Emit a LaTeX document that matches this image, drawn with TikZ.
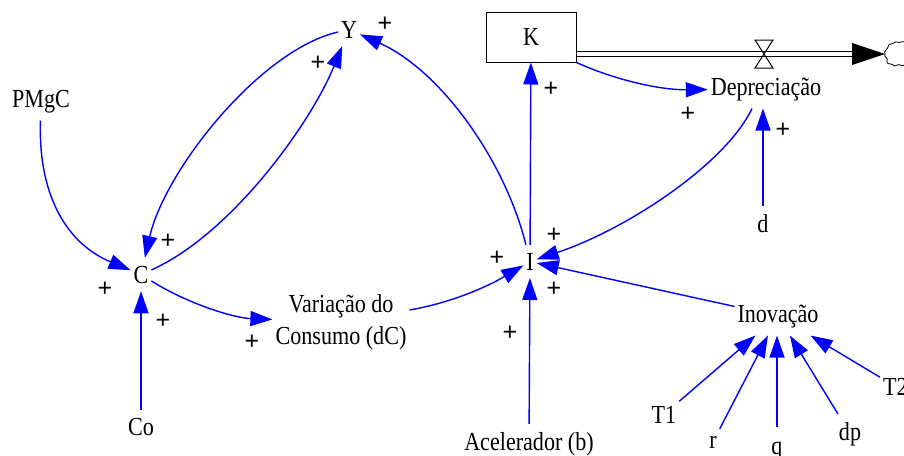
\documentclass[tikz,border=0pt]{standalone}
\usepackage{fontspec}
\usepackage{graphicx}
\setmainfont{Liberation Serif}
\newfontfamily\varfont{Liberation Serif}
\newfontfamily\plusfont{Liberation Sans}
\newcommand{\nx}[1]{\scalebox{0.85}[1]{#1}}
\usetikzlibrary{arrows.meta}
\definecolor{linkblue}{RGB}{0,0,255}
\tikzset{
  var/.style={font=\varfont\fontsize{26}{32}\selectfont, inner xsep=3pt, inner ysep=8pt, outer sep=0pt, anchor=base},
  pol/.style={font=\plusfont\fontsize{25}{26}\selectfont, inner sep=0pt},
  link/.style={draw=linkblue, line width=1.4pt, -{Triangle[length=22pt,width=15pt]}},
  stockbox/.style={draw, line width=1pt, minimum width=90pt, minimum height=50pt, font=\varfont\fontsize{26}{32}\selectfont},
  pipe/.style={line width=1.1pt, double distance=4.6pt},
  thinblack/.style={line width=1pt}
}
\begin{document}
\begin{tikzpicture}[x=1pt,y=-1pt]
\clip (0,0) rectangle (904,455);
\fill[white] (0,0) rectangle (904,455);

% variables
\node[var] (Y) at (349,38) {\nx{Y}};
\node[var] (PMgC) at (41,107) {\nx{PMgC}};
\node[var] (C) at (141,283) {\nx{C}};
\node[var] (Co) at (141,435) {\nx{Co}};
\node[font=\varfont\fontsize{26}{32}\selectfont, align=center, inner xsep=3pt, inner ysep=4pt] (Var) at (341,322) {\nx{Variação do}\\\nx{Consumo (dC)}};
\node[var] (I) at (530,270) {\nx{I}};
\node[stockbox] (K) at (531,37) {\nx{K}};
\node[var] (Dep) at (766,95) {\nx{Depreciação}};
\node[var] (d) at (763,232) {\nx{d}};
\node[var] (Inov) at (778,322) {\nx{Inovação}};
\node[var] (T1) at (664,423) {\nx{T1}};
\node[var] (r) at (713,448) {\nx{r}};
\node[var] (q) at (777,454) {\nx{q}};
\node[var] (dp) at (850,440) {\nx{dp}};
\node[var, anchor=base west] (T2) at (880,395) {\nx{T2}};
\node[var] (Acel) at (529,450) {\nx{Acelerador (b)}};

% flow
\coordinate (valve) at (764,54);
\coordinate (sink) at (885,54);
\draw[pipe] (K.east |- valve) -- (852,54);
\fill (852,43) -- (sink) -- (852,65) -- cycle;
\draw[thinblack] (valve) ++(-9,-14) -- ++(18,0) -- ++(-18,28) -- ++(18,0) -- cycle;
\draw[line width=0.8pt] (sink) .. controls (883,51) and (888,49) .. (888,47)
  .. controls (888,43) and (892,45) .. (894,43) .. controls (896,40) and (899,44) .. (901,42)
  .. controls (903,40) and (905,43) .. (908,42);
\draw[line width=0.8pt] (sink) .. controls (883,57) and (889,58) .. (887,61)
  .. controls (886,65) and (891,63) .. (893,65) .. controls (895,68) and (898,63) .. (900,65)
  .. controls (902,67) and (905,64) .. (908,65);

% links
\draw[link] (PMgC) .. controls (38,200) and (70,245) .. (C);
\draw[link] (Y) .. controls (260,50) and (165,170) .. (C);
\draw[link] (C) .. controls (230,235) and (310,125) .. (Y);
\draw[link] (I) .. controls (505,160) and (440,70) .. (Y);
\draw[link] (I) -- (K);
\draw[link] (K.south east) .. controls (615,80) and (660,90) .. (Dep);
\draw[link] ([xshift=-14pt]Dep.south) .. controls (725,165) and (625,230) .. (I);
\draw[link] (d.north) -- (d.north |- Dep.south);
\draw[link] (Inov) -- (I);
\draw[link] (Var) .. controls (455,302) and (490,285) .. (I);
\draw[link] (C) .. controls (190,305) and (235,318) .. (Var);
\draw[link] (Co) -- (C);
\draw[link] (Acel) -- (I);
\draw[link] (T1) -- (Inov);
\draw[link] (r) -- (Inov);
\draw[link] ([yshift=7pt]q.north) -- (q.north |- Inov.south);
\draw[link] (dp) -- (Inov);
\draw[link] (T2) -- (Inov);

% polarities
\node[pol] (p1) at (385,24) {+};
\node[pol] (p2) at (318,63) {+};
\node[pol] (p3) at (168,241) {+};
\node[pol] (p4) at (105,289) {+};
\node[pol] (p5) at (163,321) {+};
\node[pol] (p6) at (252,342) {+};
\node[pol] (p7) at (497,258) {+};
\node[pol] (p8) at (554,235) {+};
\node[pol] (p9) at (554,289) {+};
\node[pol] (p10) at (510,333) {+};
\node[pol] (p11) at (551,89) {+};
\node[pol] (p12) at (688,114) {+};
\node[pol] (p13) at (783,130) {+};
\end{tikzpicture}
\end{document}
